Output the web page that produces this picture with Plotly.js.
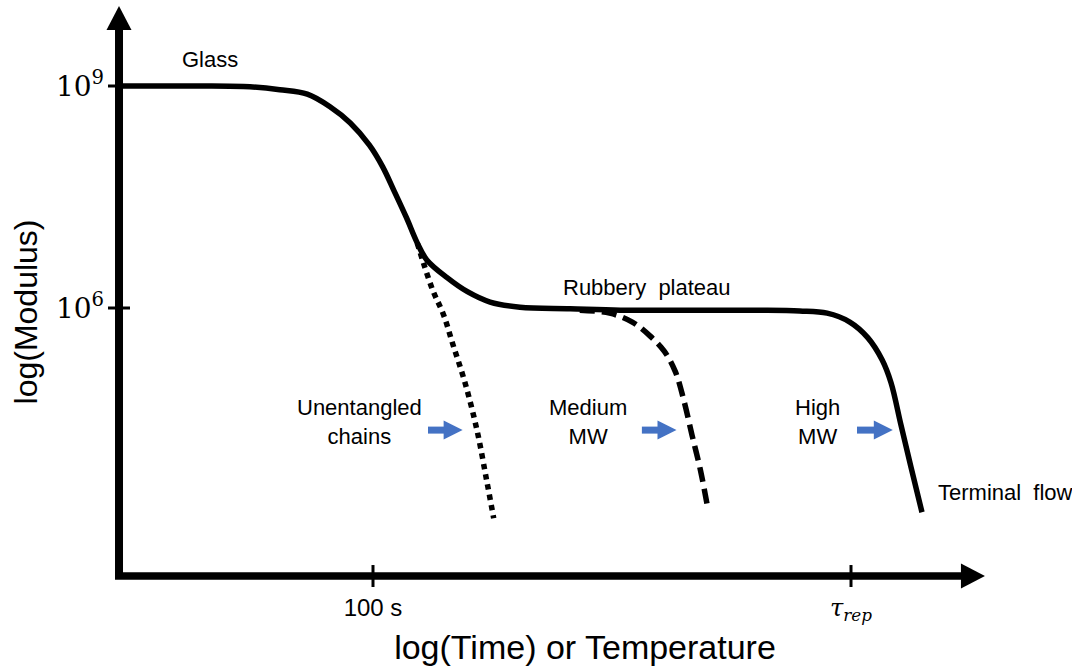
<!DOCTYPE html>
<html>
<head>
<meta charset="utf-8">
<script src="https://cdn.plot.ly/plotly-3.0.1.min.js"></script>
<style>html,body{margin:0;padding:0;background:#fff;}</style>
</head>
<body>
<div id="chart" style="width:1072px;height:668px;"></div>
<script>
// Relaxation modulus master curve (schematic). x: log10 time, y: log10 modulus.
const timeHigh = [-0.13, 0.22, 0.55, 0.97, 1.22, 1.45, 1.64, 1.81, 1.97, 2.08, 2.18, 2.28, 2.37, 2.45, 2.62, 2.79, 2.98, 3.23, 3.65, 4.07, 4.74, 5.24, 5.57, 5.80, 5.99, 6.14, 6.26, 6.335, 6.418, 6.502, 6.594];
const logModHigh = [9.00, 9.00, 9.00, 8.99, 8.95, 8.89, 8.72, 8.50, 8.20, 7.91, 7.57, 7.22, 6.88, 6.65, 6.41, 6.22, 6.08, 6.01, 5.99, 5.97, 5.97, 5.97, 5.96, 5.93, 5.81, 5.60, 5.30, 4.99, 4.42, 3.85, 3.24];

const timeMedium = [3.73, 3.98, 4.17, 4.32, 4.44, 4.53, 4.60, 4.67, 4.74, 4.80];
const logModMedium = [5.97, 5.93, 5.81, 5.62, 5.41, 5.14, 4.76, 4.28, 3.81, 3.31];

const timeUnentangled = [2.37, 2.42, 2.50, 2.59, 2.67, 2.77, 2.87, 2.95, 3.01];
const logModUnentangled = [6.88, 6.62, 6.24, 5.91, 5.50, 4.99, 4.35, 3.68, 3.16];

// Axis ticks
const xTickVals = [2, 6];
const xTickText = ["100 s", "<span style=\"font-family:DejaVu Serif\"><i>τ</i><sub><i>rep</i></sub></span>"];
const yTickVals = [6, 9];
const yTickText = ["10<sup>6</sup>", "10<sup>9</sup>"];

// Regime labels
const regimeLabels = ["Glass", "Rubbery  plateau", "Unentangled<br>chains", "Medium<br>MW", "High<br>MW", "Terminal  flow"];
const regimeX = [0.64, 4.29, 1.89, 3.80, 5.72, 6.71];
const regimeY = [9.36, 6.28, 4.46, 4.46, 4.46, 3.51];

// Shift arrows (increasing molecular weight)
const shiftFrom = [2.46, 4.25, 6.05];
const shiftTo = [2.75, 4.54, 6.35];
const shiftY = [4.35, 4.35, 4.35];

const X_RANGE = [-0.2427, 7.7908];
const Y_RANGE = [1.7297, 10.1622];
const PX_X = 960 / (X_RANGE[1] - X_RANGE[0]);
const PX_Y = 624 / (Y_RANGE[1] - Y_RANGE[0]);
const dx = p => p / PX_X;
const dy = p => p / PX_Y;

// Frame position (where the two drawn axes meet)
const originX = -0.1255;
const originY = 2.378;
const yAxisTop = 10.081;
const xAxisEnd = 7.121;

const SANS = "Liberation Sans, Arial, sans-serif";
const BLUE = "#4472C4";

const traces = [
  {x: timeMedium, y: logModMedium, mode: "lines", line: {color: "#000", width: 5.5, dash: "15px,7px", shape: "spline", smoothing: 1}, hoverinfo: "skip"},
  {x: timeUnentangled, y: logModUnentangled, mode: "lines", line: {color: "#000", width: 5.5, dash: "5.5px,5px", shape: "spline", smoothing: 1}, hoverinfo: "skip"},
  {x: timeHigh, y: logModHigh, mode: "lines", line: {color: "#000", width: 5.5, shape: "spline", smoothing: 1}, hoverinfo: "skip"}
];

const shapes = [];
// y axis shaft and arrowhead
shapes.push({type: "line", xref: "x", yref: "y", x0: originX, x1: originX, y0: originY - dy(3), y1: yAxisTop - dy(22), line: {color: "#000", width: 8}});
shapes.push({type: "path", xref: "x", yref: "y", path: `M ${originX},${yAxisTop} L ${originX + dx(12.5)},${yAxisTop - dy(24)} L ${originX - dx(12.5)},${yAxisTop - dy(24)} Z`, fillcolor: "#000", line: {width: 0}});
// x axis shaft and arrowhead
shapes.push({type: "line", xref: "x", yref: "y", x0: originX - dx(4), x1: xAxisEnd - dx(22), y0: originY, y1: originY, line: {color: "#000", width: 7.5}});
shapes.push({type: "path", xref: "x", yref: "y", path: `M ${xAxisEnd},${originY} L ${xAxisEnd - dx(24)},${originY + dy(12.5)} L ${xAxisEnd - dx(24)},${originY - dy(12.5)} Z`, fillcolor: "#000", line: {width: 0}});
// crossing tick marks
xTickVals.forEach(v => shapes.push({type: "line", xref: "x", yref: "y", x0: v, x1: v, y0: originY + dy(11), y1: originY - dy(11), line: {color: "#000", width: 3}}));
yTickVals.forEach(v => shapes.push({type: "line", xref: "x", yref: "y", x0: originX - dx(11), x1: originX + dx(11), y0: v, y1: v, line: {color: "#000", width: 3}}));
// blue shift arrows
shiftFrom.forEach((x0, i) => {
  const x1 = shiftTo[i], y = shiftY[i];
  shapes.push({type: "line", xref: "x", yref: "y", x0: x0, x1: x1 - dx(16), y0: y, y1: y, line: {color: BLUE, width: 7}});
  shapes.push({type: "path", xref: "x", yref: "y", path: `M ${x1},${y} L ${x1 - dx(19)},${y + dy(9.5)} L ${x1 - dx(19)},${y - dy(9.5)} Z`, fillcolor: BLUE, line: {width: 0}});
});

const annotations = regimeLabels.map((t, i) => ({
  x: regimeX[i], y: regimeY[i], xref: "x", yref: "y", text: t, showarrow: false,
  xanchor: i === 5 ? "left" : "center", yanchor: "middle",
  font: {family: SANS, size: 22, color: "#000"}
}));

const layout = {
  width: 1072, height: 668,
  margin: {l: 105, r: 7, t: 0, b: 44},
  paper_bgcolor: "#fff", plot_bgcolor: "#fff",
  showlegend: false,
  xaxis: {
    range: X_RANGE, showgrid: false, zeroline: false, showline: false, ticks: "",
    tickvals: xTickVals, ticktext: xTickText, ticklabelposition: "inside",
    tickfont: {family: SANS, size: 24, color: "#000"},
    title: {text: "log(Time) or Temperature", font: {family: SANS, size: 34, color: "#000"}, standoff: 10}
  },
  yaxis: {
    range: Y_RANGE, showgrid: false, zeroline: false, showline: false, ticks: "",
    tickvals: yTickVals, ticktext: yTickText,
    tickfont: {family: "DejaVu Serif, serif", size: 28, color: "#000"},
    title: {text: "log(Modulus)", font: {family: SANS, size: 32, color: "#000"}, standoff: 8}
  },
  shapes: shapes,
  annotations: annotations
};

Plotly.newPlot("chart", traces, layout, {staticPlot: true, displayModeBar: false});
</script>
</body>
</html>
